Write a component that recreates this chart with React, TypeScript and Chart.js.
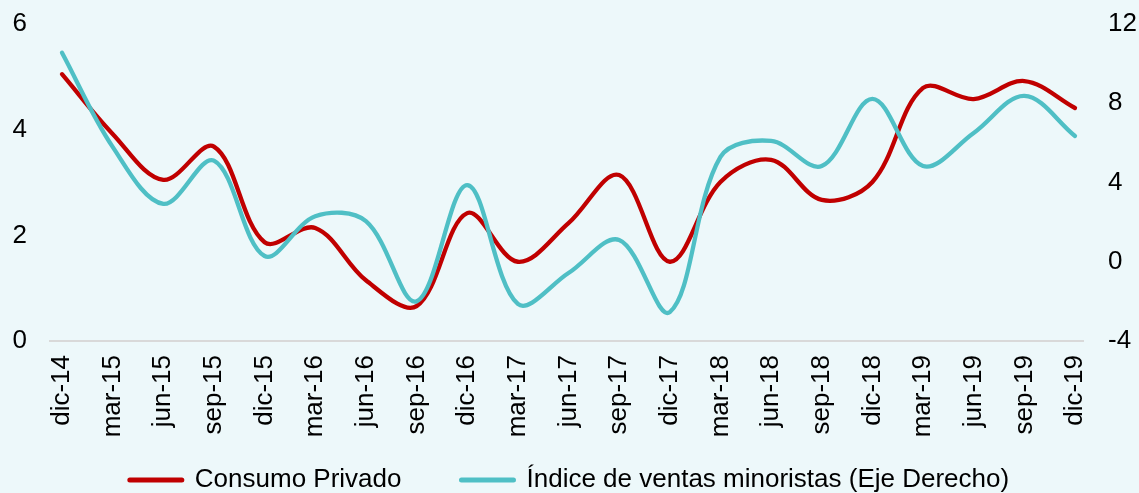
import React, { useEffect, useRef } from "react";
import { Chart, registerables } from "chart.js";

Chart.register(...registerables);

const categories = [
  "dic-14", "mar-15", "jun-15", "sep-15", "dic-15", "mar-16", "jun-16", "sep-16",
  "dic-16", "mar-17", "jun-17", "sep-17", "dic-17", "mar-18", "jun-18", "sep-18",
  "dic-18", "mar-19", "jun-19", "sep-19", "dic-19",
];

const consumoPrivado = [
  5.05, 3.92, 3.05, 3.68, 1.87, 2.14, 1.15, 0.66, 2.42, 1.5, 2.23,
  3.14, 1.5, 3.01, 3.43, 2.67, 3.01, 4.79, 4.58, 4.92, 4.41,
];

const ventasMinoristas = [
  10.55, 5.8, 2.92, 5.1, 0.29, 2.3, 2.05, -2.0, 3.87, -2.13, -0.57,
  1.1, -2.54, 5.29, 6.1, 4.83, 8.22, 4.83, 6.5, 8.37, 6.35,
];

const leftAxis = { min: 0, max: 6, step: 2 };
const rightAxis = { min: -4, max: 12, step: 4 };

const RED = "#C00000";
const TEAL = "#4FBFC5";
const BG = "#EDF8FA";
const FONT = "'Liberation Sans', Arial, Helvetica, sans-serif";
const LEGEND_GAP = 60;
const LEGEND_ROW_CENTER = 480;

// moves the legend row to its place under the rotated category labels
const legendPlacer = {
  id: "legendPlacer",
  afterLayout(chart: any) {
    const lg = chart.legend;
    if (!lg) return;
    const dy = LEGEND_ROW_CENTER - 13 - LEGEND_GAP - lg.top;
    lg.top += dy;
    lg.bottom += dy;
  },
};

const fitY = (w: number) => (s: any) => {
  s.width = w;
  s.paddingTop = 0;
  s.paddingBottom = 0;
};

export default function App() {
  const ref = useRef<HTMLCanvasElement>(null);

  useEffect(() => {
    const canvas = ref.current;
    if (!canvas) return;
    const chart = new Chart(canvas, {
      type: "line",
      data: {
        datasets: [
          {
            label: "Consumo Privado",
            data: categories.map((_, i) => ({ x: i, y: consumoPrivado[i] })),
            borderColor: RED,
            backgroundColor: RED,
            borderWidth: 4.3,
            pointRadius: 0,
            tension: 0.35,
            borderCapStyle: "round",
            borderJoinStyle: "round",
            yAxisID: "y",
            order: 1,
          },
          {
            label: "Índice de ventas minoristas (Eje Derecho)",
            data: categories.map((_, i) => ({ x: i, y: ventasMinoristas[i] })),
            borderColor: TEAL,
            backgroundColor: TEAL,
            borderWidth: 4.3,
            pointRadius: 0,
            tension: 0.35,
            borderCapStyle: "round",
            borderJoinStyle: "round",
            yAxisID: "y1",
            order: 0,
          },
        ],
      },
      options: {
        animation: false,
        responsive: false,
        devicePixelRatio: 1,
        layout: { padding: { top: 24, left: 0, right: 0, bottom: -48 } },
        scales: {
          x: {
            type: "linear",
            min: -0.237,
            max: 20.158,
            afterBuildTicks: (s: any) => {
              s.ticks = categories.map((_, i) => ({ value: i }));
            },
            afterFit: (s: any) => {
              s.height = 104;
            },
            ticks: {
              autoSkip: false,
              minRotation: 90,
              maxRotation: 90,
              padding: 14,
              color: "#000",
              font: { family: FONT, size: 26 },
              callback: (v: any) => categories[Math.round(Number(v))],
            },
            grid: { display: false, drawTicks: false },
            border: { display: true, color: "#D9D9D9", width: 2 },
          },
          y: {
            position: "left",
            min: leftAxis.min,
            max: leftAxis.max,
            afterFit: fitY(50),
            ticks: {
              stepSize: leftAxis.step,
              padding: 23,
              color: "#000",
              font: { family: FONT, size: 26 },
            },
            grid: { display: false, drawTicks: false },
            border: { display: false },
          },
          y1: {
            position: "right",
            min: rightAxis.min,
            max: rightAxis.max,
            afterFit: fitY(56),
            ticks: {
              stepSize: rightAxis.step,
              padding: 25,
              color: "#000",
              font: { family: FONT, size: 26 },
            },
            grid: { display: false, drawTicks: false },
            border: { display: false },
          },
        },
        plugins: {
          tooltip: { enabled: false },
          legend: {
            position: "bottom",
            labels: {
              usePointStyle: true,
              pointStyle: "line",
              pointStyleWidth: 52,
              padding: LEGEND_GAP,
              color: "#000",
              font: { family: FONT, size: 26 },
              sort: (a: any, b: any) => a.datasetIndex - b.datasetIndex,
              generateLabels: (c: any) =>
                Chart.defaults.plugins.legend.labels
                  .generateLabels(c)
                  .map((l: any) => ({ ...l, lineWidth: 5, lineCap: "round" })),
            },
          },
        },
      },
      plugins: [legendPlacer],
    } as any);
    return () => chart.destroy();
  }, []);

  return (
    <div
      style={{
        position: "fixed",
        left: 0,
        top: 0,
        width: 1139,
        height: 493,
        background: BG,
      }}
    >
      <canvas ref={ref} width={1139} height={493} style={{ display: "block" }} />
    </div>
  );
}
